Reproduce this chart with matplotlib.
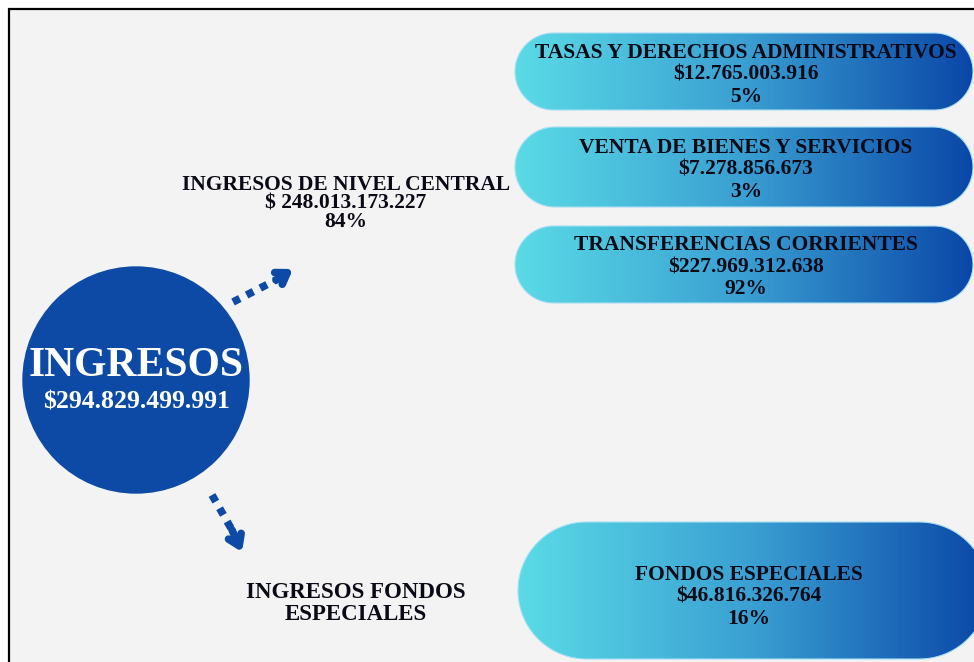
import numpy as np
import matplotlib
matplotlib.use("Agg")
import matplotlib.pyplot as plt
from matplotlib.patches import Circle, Rectangle, Polygon
from matplotlib.colors import LinearSegmentedColormap

# data
total_label = "INGRESOS"
total_value = "$294.829.499.991"

groups = ["INGRESOS DE NIVEL CENTRAL", "INGRESOS FONDOS\nESPECIALES"]
group_values = ["$ 248.013.173.227", ""]
group_pcts = ["84%", ""]

items = ["TASAS Y DERECHOS ADMINISTRATIVOS", "VENTA DE BIENES Y SERVICIOS",
         "TRANSFERENCIAS CORRIENTES", "FONDOS ESPECIALES"]
item_values = ["$12.765.003.916", "$7.278.856.673", "$227.969.312.638", "$46.816.326.764"]
item_pcts = ["5%", "3%", "92%", "16%"]

BLUE = "#0c4aa6"
FONT = "Liberation Serif"
TXT = "#0a0a16"
grad = LinearSegmentedColormap.from_list("pill", ["#5adbe6", "#3a9fd2", "#0a47a7"])

fig = plt.figure(figsize=(9.74, 6.62), dpi=100)
fig.patch.set_facecolor("white")
ax = fig.add_axes([0, 0, 1, 1])
ax.set_xlim(0, 974)
ax.set_ylim(662, 0)
ax.axis("off")

# panel
ax.add_patch(Rectangle((9, 9), 980, 670, facecolor="#f3f3f3", edgecolor="black", lw=1.6))

# central circle
ax.add_patch(Circle((136, 380), 113, color=BLUE))
ax.text(136, 366, total_label, color="white", fontsize=30, fontweight="bold",
        family=FONT, ha="center", va="center")
ax.text(136, 402, total_value, color="white", fontsize=18.5, fontweight="bold",
        family=FONT, ha="center", va="center")

# dotted arrows
def dotted_arrow(x0, y0, x1, y1, xt, yt):
    ax.plot([x0, x1], [y0, y1], color=BLUE, lw=5.5, ls=(0, (1, 1.0)), solid_capstyle="butt")
    ax.annotate("", xy=(xt, yt), xytext=(x1, y1),
                arrowprops=dict(arrowstyle="->,head_length=0.75,head_width=0.5",
                                color=BLUE, lw=5.5, shrinkA=0, shrinkB=0))

dotted_arrow(233, 302, 276, 280, 293, 269)
dotted_arrow(212, 495, 232, 530, 242, 552)

def lines(x, y0, texts, size, step):
    for i, t in enumerate(texts):
        if t:
            ax.text(x, y0 + i * step, t, fontsize=size, fontweight="bold", family=FONT,
                    ha="center", va="center", color=TXT, zorder=3)

# group labels
lines(346, 185, [groups[0], group_values[0], group_pcts[0]], 15.5, 18.5)
lines(356, 593, groups[1].split("\n"), 16.5, 21)

# pills
def pill(x, y, w, h):
    r = h / 2
    t = np.linspace(np.pi / 2, 3 * np.pi / 2, 60)
    left = np.column_stack([x + r + r * np.cos(t), y + r - r * np.sin(t)])
    t2 = np.linspace(-np.pi / 2, np.pi / 2, 60)
    right = np.column_stack([x + w - r + r * np.cos(t2), y + r - r * np.sin(t2)])
    return Polygon(np.vstack([left, right]), closed=True, facecolor="none",
                   edgecolor="#a6dff2", lw=0.8, zorder=2)

pills = [(515, 33, 458, 77), (515, 127, 458, 80), (515, 226, 458, 77), (518, 522, 470, 137)]
gimg = np.linspace(0, 1, 256).reshape(1, -1)
for (x, y, w, h), name, val, pct in zip(pills, items, item_values, item_pcts):
    patch = pill(x, y, w, h)
    ax.add_patch(patch)
    im = ax.imshow(gimg, cmap=grad, aspect="auto", extent=(x, x + w, y + h, y),
                   interpolation="bilinear", zorder=1)
    im.set_clip_path(patch)
    off = 19 if h < 100 else 16
    lines(x + 231, y + h / 2 - off, [name, val, pct], 15.5, 22)

ax.set_xlim(0, 974)
ax.set_ylim(662, 0)
fig.savefig("out.png", dpi=100, facecolor=fig.get_facecolor())
